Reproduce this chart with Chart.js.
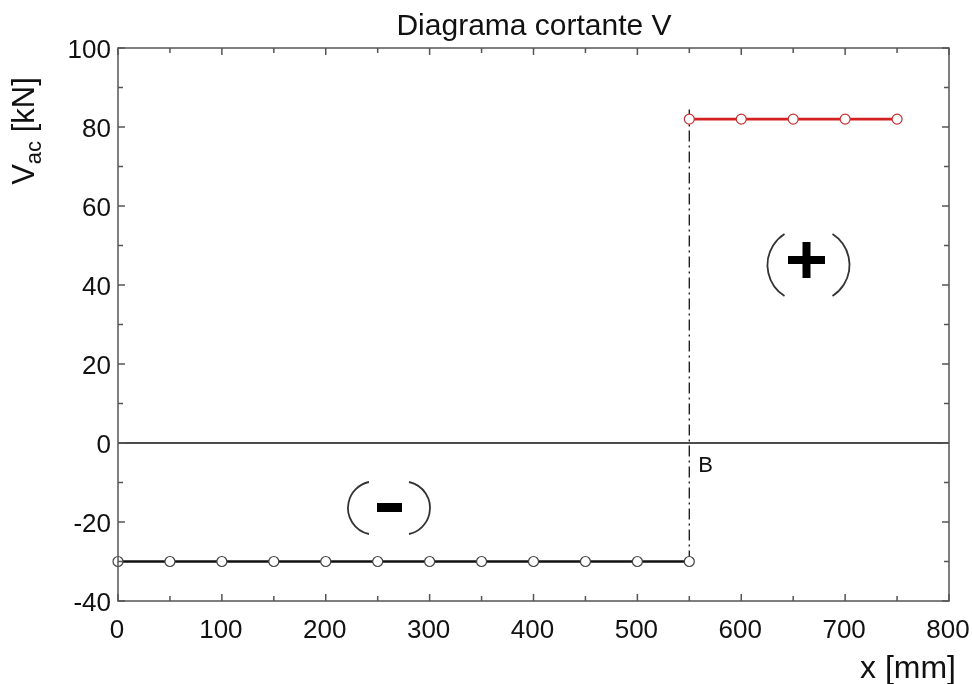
<!DOCTYPE html>
<html><head><meta charset="utf-8">
<script src="https://cdn.jsdelivr.net/npm/chart.js@4.4.1/dist/chart.umd.min.js"></script>
<style>html,body{margin:0;padding:0;background:#fff}#wrap{width:972px;height:684px}</style>
</head><body><div id="wrap"><canvas id="c" width="972" height="684"></canvas></div>
<script>
const xNeg = [0,50,100,150,200,250,300,350,400,450,500,550];
const vNeg = [-30,-30,-30,-30,-30,-30,-30,-30,-30,-30,-30,-30];
const xPos = [550,600,650,700,750];
const vPos = [82,82,82,82,82];
const xZero = [0,800];
const vZero = [0,0];
const xB = [550,550];
const vB = [-30,85];
const xTicks = [0,100,200,300,400,500,600,700,800];
const yTicks = [-40,-20,0,20,40,60,80,100];
const FONT = 'Liberation Sans, Arial, sans-serif';

const pts = (xs, ys) => xs.map((x,i)=>({x:x,y:ys[i]}));

const deco = {
  id:'deco',
  afterDraw(chart){
    const {ctx, chartArea:a, scales:{x,y}} = chart;
    ctx.save();
    ctx.strokeStyle='#555'; ctx.lineWidth=1.5;
    ctx.strokeRect(a.left, a.top, a.right-a.left, a.bottom-a.top);
    ctx.beginPath();
    for(let v=0; v<=800; v+=50){
      const px=x.getPixelForValue(v), L = (v%100===0)?7:5;
      ctx.moveTo(px,a.bottom); ctx.lineTo(px,a.bottom-L);
      ctx.moveTo(px,a.top); ctx.lineTo(px,a.top+L);
    }
    for(let v=-40; v<=100; v+=10){
      const py=y.getPixelForValue(v), L=(v%20===0)?7:5;
      ctx.moveTo(a.left,py); ctx.lineTo(a.left+L,py);
      ctx.moveTo(a.right,py); ctx.lineTo(a.right-L,py);
    }
    ctx.stroke();
    ctx.fillStyle='#111';
    ctx.font='26px '+FONT;
    ctx.textAlign='right'; ctx.textBaseline='alphabetic';
    yTicks.forEach(v=>ctx.fillText(String(v), a.left-7, y.getPixelForValue(v)+9.5));
    ctx.textAlign='center';
    xTicks.forEach(v=>ctx.fillText(String(v), x.getPixelForValue(v)-1, 638));
    // title
    ctx.font='30px '+FONT;
    ctx.fillText('Diagrama cortante V', 534, 35);
    // x title
    ctx.font='32px '+FONT; ctx.textAlign='right';
    ctx.fillText('x [mm]', 956, 678);
    // y title
    ctx.save();
    ctx.translate(34, 131); ctx.rotate(-Math.PI/2);
    ctx.textAlign='left';
    const p1='V', p2='ac', p3=' [kN]';
    ctx.font='31px '+FONT; const w1=ctx.measureText(p1).width, w3=ctx.measureText(p3).width;
    ctx.font='22px '+FONT; const w2=ctx.measureText(p2).width;
    let sx=-(w1+w2+w3)/2;
    ctx.font='31px '+FONT; ctx.fillText(p1,sx,0); sx+=w1;
    ctx.font='22px '+FONT; ctx.fillText(p2,sx,7); sx+=w2;
    ctx.font='31px '+FONT; ctx.fillText(p3,sx,0);
    ctx.restore();
    // B label
    ctx.font='22px '+FONT; ctx.textAlign='left';
    ctx.fillText('B', x.getPixelForValue(550)+9, 472);
    // (+) and (-) annotations
    function paren(cx, cy, h, half, depth){
      ctx.strokeStyle='#333'; ctx.lineWidth=1.8;
      const hh=h/2, r=(hh*hh+depth*depth)/(2*depth), ang=Math.asin(Math.min(1,hh/r));
      ctx.beginPath(); ctx.arc(cx-half+r, cy, r, Math.PI-ang, Math.PI+ang); ctx.stroke();
      ctx.beginPath(); ctx.arc(cx+half-r, cy, r, -ang, ang); ctx.stroke();
    }
    paren(808.5, 265, 62, 41, 17);
    ctx.fillStyle='#000';
    ctx.fillRect(788, 256, 37, 8);
    ctx.fillRect(802.5, 242, 8, 36);
    paren(389, 508, 52, 41, 21);
    ctx.fillRect(377, 503, 25, 9);
    ctx.restore();
  }
};

new Chart(document.getElementById('c'), {
  type:'scatter',
  data:{datasets:[
    {data:pts(xZero,vZero), showLine:true, borderColor:'#111', borderWidth:1.5, pointRadius:0, order:3},
    {data:pts(xB,vB), showLine:true, borderColor:'#222', borderWidth:1.4, borderDash:[11,4,2,4], pointRadius:0, order:2},
    {data:pts(xNeg,vNeg), showLine:true, borderColor:'#111', borderWidth:2.4, pointRadius:5, pointBackgroundColor:'#fff', pointBorderColor:'#444', pointBorderWidth:1.2, order:1},
    {data:pts(xPos,vPos), showLine:true, borderColor:'#d42020', borderWidth:2.6, pointRadius:5, pointBackgroundColor:'#fff', pointBorderColor:'#c83030', pointBorderWidth:1.2, order:0}
  ]},
  options:{
    responsive:false, animation:false, clip:false,
    layout:{padding:{top:48, right:23, left:0, bottom:0}},
    plugins:{legend:{display:false}, tooltip:{enabled:false}, title:{display:false}},
    scales:{
      x:{type:'linear', min:0, max:800, border:{display:false}, grid:{display:false},
         ticks:{display:false}, afterFit(s){s.height=83;}},
      y:{type:'linear', min:-40, max:100, border:{display:false}, grid:{display:false},
         ticks:{display:false}, afterFit(s){s.width=118;}}
    }
  },
  plugins:[deco]
});
</script></body></html>
